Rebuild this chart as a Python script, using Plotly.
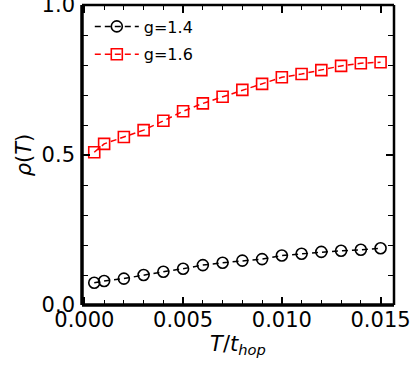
import plotly.graph_objects as go

T = [0.0005, 0.001, 0.002, 0.003, 0.004, 0.005, 0.006, 0.007, 0.008,
     0.009, 0.010, 0.011, 0.012, 0.013, 0.014, 0.015]
rho_g14 = [0.074, 0.080, 0.088, 0.100, 0.111, 0.121, 0.133, 0.141, 0.148,
           0.153, 0.165, 0.171, 0.177, 0.181, 0.184, 0.189]
rho_g16 = [0.509, 0.537, 0.560, 0.583, 0.614, 0.646, 0.672, 0.694, 0.717,
           0.737, 0.759, 0.770, 0.783, 0.797, 0.806, 0.809]
labels = ["g=1.4", "g=1.6"]

FONT = "DejaVu Sans"

fig = go.Figure()
fig.add_trace(go.Scatter(
    x=T, y=rho_g14, mode="lines+markers", name=labels[0], legendgroup="a",
    line=dict(color="black", width=1.5, dash="6px,4px"),
    marker=dict(symbol="circle-open", size=11, color="black", line=dict(width=1.6)),
))
fig.add_trace(go.Scatter(
    x=T, y=rho_g16, mode="lines+markers", name=labels[1], legendgroup="b",
    line=dict(color="#ff0000", width=1.5, dash="6px,4px"),
    marker=dict(symbol="square-open", size=11, color="#ff0000", line=dict(width=1.6)),
))

axis_common = dict(
    showline=False, showgrid=False, zeroline=False, automargin=False,
    ticks="inside", mirror="ticks", tickcolor="black", tickwidth=1.5,
    ticklen=8, tickfont=dict(family=FONT, size=21, color="black"),
    ticklabeloverflow="allow",
)

fig.update_xaxes(
    range=[-0.00012, 0.01568], tick0=0, dtick=0.005, tickformat=".3f",
    minor=dict(dtick=0.001, ticks="inside", ticklen=5, tickcolor="black", tickwidth=1.2),
    title=dict(text="<i>T</i>/<i>t</i><sub><i>hop</i></sub>",
               font=dict(family=FONT, size=21, color="black"), standoff=4),
    **axis_common,
)
fig.update_yaxes(
    range=[0, 1], tick0=0, dtick=0.5, tickformat=".1f", ticklabelstandoff=6,
    minor=dict(dtick=0.1, ticks="inside", ticklen=6, tickcolor="black", tickwidth=1.2),
    title=dict(text="<i>ρ</i>(<i>T</i>)",
               font=dict(family=FONT, size=21, color="black"), standoff=4),
    **axis_common,
)

# spines
fig.add_shape(type="line", xref="paper", yref="paper", x0=0, x1=0, y0=0, y1=1,
              line=dict(color="black", width=3.5), layer="above")
fig.add_shape(type="line", xref="paper", yref="paper", x0=0, x1=1, y0=0, y1=0,
              line=dict(color="black", width=3.5), layer="above")
fig.add_shape(type="line", xref="paper", yref="paper", x0=0, x1=1, y0=1, y1=1,
              line=dict(color="black", width=2.5), layer="above")
fig.add_shape(type="line", xref="paper", yref="paper", x0=1, x1=1, y0=0, y1=1,
              line=dict(color="black", width=2.5), layer="above")

fig.update_layout(
    width=412, height=367,
    margin=dict(l=82, r=18, t=5, b=62),
    paper_bgcolor="white", plot_bgcolor="white",
    font=dict(family=FONT, color="black"),
    showlegend=True,
    legend=dict(x=0.025, y=0.985, xanchor="left", yanchor="top",
                bgcolor="rgba(0,0,0,0)", borderwidth=0,
                font=dict(family=FONT, size=16, color="black"),
                itemwidth=44, tracegroupgap=4),
)

fig.write_html("out.html")
